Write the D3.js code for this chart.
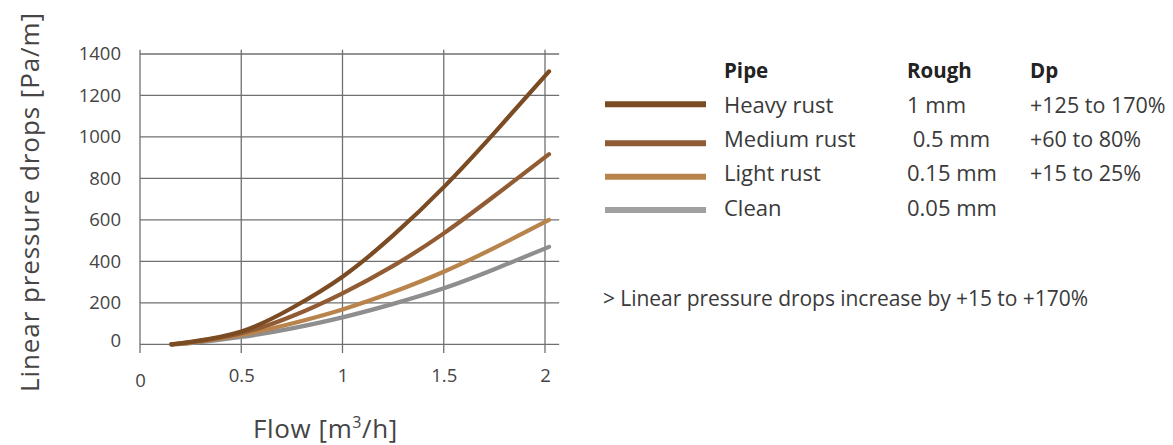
<!DOCTYPE html>
<html><head><meta charset="utf-8">
<script src="https://cdn.jsdelivr.net/npm/d3@7"></script>
<style>
body{margin:0;background:#fff;}
svg{display:block;font-family:"Open Sans",sans-serif;}
text{white-space:pre;}
</style></head>
<body><svg id="c" width="1173" height="445"></svg>
<script>
const flows = [0.155, 0.25, 0.5, 0.75, 1, 1.25, 1.5, 1.75, 2.02];
const heavy  = [0, 12, 62, 175, 326, 525, 758, 1020, 1316];
const medium = [0, 10, 54, 135, 246, 378, 535, 715, 917];
const light  = [0, 8, 45, 100, 168, 252, 350, 465, 600];
const clean  = [0, 5, 35, 77, 130, 195, 270, 362, 470];
const seriesNames = ["Heavy rust", "Medium rust", "Light rust", "Clean"];
const roughness = ["1 mm", " 0.5 mm", "0.15 mm", "0.05 mm"];
const dpRanges = ["+125 to 170%", "+60 to 80%", "+15 to 25%", ""];
const colors = ["#7b4b23", "#915c33", "#b8844c", "#8e8e8e"];
const legendColors = ["#7b4b23", "#915c33", "#b8844c", "#a0a0a0"];
const xTicks = [0, 0.5, 1, 1.5, 2];
const xTickLabels = ["0", "0.5", "1", "1.5", "2"];
const yTicks = [0, 200, 400, 600, 800, 1000, 1200, 1400];
const headers = ["Pipe", "Rough", "Dp"];
const note = "> Linear pressure drops increase by +15 to +170%";

const svg = d3.select("#c");
const x = d3.scaleLinear().domain([0, 2]).range([140, 545]);
const y = d3.scaleLinear().domain([0, 1400]).range([344.3, 54]);
const gridColor = "#707070";

// horizontal grid
const g = svg.append("g");
g.selectAll("line.h").data(yTicks).join("line")
  .attr("x1", x(0)).attr("x2", x(2.07))
  .attr("y1", d => y(d)).attr("y2", d => y(d))
  .attr("stroke", gridColor).attr("stroke-width", 1.3);
// vertical grid
g.selectAll("line.v").data(xTicks).join("line")
  .attr("x1", d => x(d)).attr("x2", d => x(d))
  .attr("y1", y(1420)).attr("y2", y(-42))
  .attr("stroke", gridColor).attr("stroke-width", 1.3);

// y axis labels
const yAxis = d3.axisLeft(y).tickValues(yTicks).tickFormat(d3.format("d")).tickSize(0).tickPadding(19);
const ya = svg.append("g").attr("transform", `translate(${x(0)},0)`).call(yAxis);
ya.select(".domain").remove();
ya.selectAll("text").attr("font-size", 18.5).attr("fill", "#454545")
  .attr("font-family", "Open Sans").attr("dy", "0.32em");
ya.selectAll(".tick").filter(d => d === 0).select("text").attr("dy", "0.1em");

// x axis labels
const xAxis = d3.axisBottom(x).tickValues(xTicks).tickFormat((d, i) => xTickLabels[i]).tickSize(0).tickPadding(25);
const xa = svg.append("g").attr("transform", `translate(0,${y(0)})`).call(xAxis);
xa.select(".domain").remove();
xa.selectAll("text").attr("font-size", 18.5).attr("fill", "#454545").attr("font-family", "Open Sans");
xa.selectAll(".tick").filter(d => d === 0).select("text").attr("dy", "0.95em");

// axis titles
const xt = svg.append("text").attr("x", 253).attr("y", 438)
  .attr("font-size", 26).attr("fill", "#454545").attr("letter-spacing", 0.6);
xt.append("tspan").text("Flow [m");
xt.append("tspan").attr("font-size", 16).attr("dy", -10).text("3");
xt.append("tspan").attr("dy", 10).text("/h]");

svg.append("text").attr("transform", "translate(39,392) rotate(-90)")
  .attr("font-size", 26).attr("fill", "#454545")
  .attr("textLength", 379).attr("lengthAdjust", "spacing")
  .text("Linear pressure drops [Pa/m]");

// curves
const line = d3.line().x((d, i) => x(flows[i])).y(d => y(d)).curve(d3.curveNatural);
const allSeries = [clean, light, medium, heavy];
const allColors = [colors[3], colors[2], colors[1], colors[0]];
svg.append("g").selectAll("path").data(allSeries).join("path")
  .attr("d", line).attr("fill", "none")
  .attr("stroke", (d, i) => allColors[i]).attr("stroke-width", 4.2)
  .attr("stroke-linecap", "round");

// legend
const legY = [104.3, 143.3, 176.7, 210];
const rowBase = [113, 147, 181, 216];
const colX = [724, 907, 1030];
const lg = svg.append("g");
lg.selectAll("line").data(seriesNames).join("line")
  .attr("x1", 605).attr("x2", 706)
  .attr("y1", (d, i) => legY[i]).attr("y2", (d, i) => legY[i])
  .attr("stroke", (d, i) => legendColors[i]).attr("stroke-width", 6);
lg.selectAll("text.h").data(headers).join("text")
  .attr("x", (d, i) => colX[i]).attr("y", 78)
  .attr("font-size", 20.5).attr("font-weight", "bold").attr("fill", "#222").text(d => d);
[seriesNames, roughness, dpRanges].forEach((col, ci) => {
  lg.append("g").selectAll("text").data(col).join("text")
    .attr("x", colX[ci]).attr("y", (d, i) => rowBase[i])
    .attr("font-size", ci === 2 ? 21.5 : 22).attr("fill", "#3a3a3a").text(d => d);
});

svg.append("text").attr("x", 603).attr("y", 306).attr("font-size", 21)
  .attr("fill", "#3a3a3a").attr("textLength", 485).attr("lengthAdjust", "spacing").text(note);
</script></body></html>
